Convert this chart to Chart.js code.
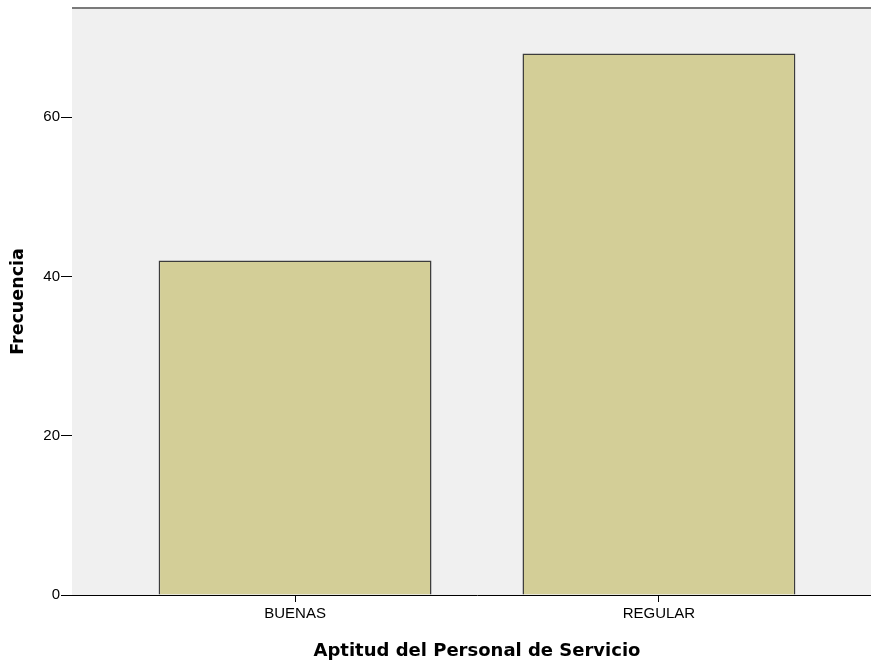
<!DOCTYPE html>
<html>
<head>
<meta charset="utf-8">
<script src="https://cdn.jsdelivr.net/npm/chart.js@4.4.0/dist/chart.umd.min.js"></script>
<style>
  html, body { margin: 0; padding: 0; background: #fff; overflow: hidden; }
  #cntr { width: 882px; height: 662px; }
</style>
</head>
<body>
<div id="cntr"><canvas id="grafica"></canvas></div>
<script>
// datos
const categorias = ['BUENAS', 'REGULAR'];
const frecuencias = [42, 68];
const ticksY = [0, 20, 40, 60];

const fuenteTicks = "'Liberation Sans', Arial, sans-serif";
const fuenteTitulo = "'DejaVu Sans', sans-serif";

// fondo gris del area de trazado + borde superior
const fondo = {
  id: 'fondo',
  beforeDatasetsDraw(chart) {
    const a = chart.chartArea;
    const ctx = chart.ctx;
    ctx.save();
    ctx.fillStyle = '#f0f0f0';
    ctx.fillRect(a.left, a.top, a.right - a.left, a.bottom - a.top);
    ctx.strokeStyle = '#7a7a7a';
    ctx.lineWidth = 2;
    ctx.beginPath();
    ctx.moveTo(a.left, a.top);
    ctx.lineTo(a.right, a.top);
    ctx.stroke();
    ctx.restore();
  }
};

const ctx = document.getElementById('grafica');
new Chart(ctx, {
  type: 'bar',
  data: {
    datasets: [{
      label: 'Frecuencia',
      data: frecuencias.map((v, i) => ({ x: i, y: v })),
      backgroundColor: '#d3ce97',
      borderColor: '#3c3c3c',
      borderWidth: 1.5,
      categoryPercentage: 1,
      barPercentage: 0.75
    }]
  },
  options: {
    responsive: true,
    maintainAspectRatio: false,
    animation: false,
    layout: { padding: { top: 8, left: 0, right: 0, bottom: 0 } },
    plugins: {
      legend: { display: false },
      tooltip: { enabled: false }
    },
    scales: {
      x: {
        type: 'linear',
        offset: false,
        min: -0.613,
        max: 1.613,
        afterBuildTicks: (scale) => {
          scale.ticks = categorias.map((c, i) => ({ value: i }));
        },
        afterFit: (scale) => {
          scale.height = 67;
          scale.paddingLeft = 0;
          scale.paddingRight = 0;
        },
        ticks: {
          callback: (v) => categorias[v],
          color: '#000',
          font: { family: fuenteTicks, size: 15 },
          padding: 3,
          maxRotation: 0
        },
        grid: { display: true, offset: false, drawOnChartArea: false, drawTicks: true, tickLength: 7, color: '#000' },
        border: { display: true, color: '#000', width: 1 },
        title: {
          display: true,
          text: 'Aptitud del Personal de Servicio',
          color: '#000',
          font: { family: fuenteTitulo, size: 18, weight: 'bold' },
          padding: { top: 10, bottom: 0 }
        }
      },
      y: {
        min: 0,
        max: 73.7,
        afterBuildTicks: (scale) => {
          scale.ticks = ticksY.map(v => ({ value: v }));
        },
        afterFit: (scale) => {
          scale.width = 72;
          scale.paddingTop = 0;
          scale.paddingBottom = 0;
        },
        ticks: {
          color: '#000',
          font: { family: fuenteTicks, size: 15 },
          padding: 1
        },
        grid: { display: true, drawOnChartArea: false, drawTicks: true, tickLength: 11, color: '#000' },
        border: { display: true, color: '#000', width: 1 },
        title: {
          display: true,
          text: 'Frecuencia',
          color: '#000',
          font: { family: fuenteTitulo, size: 17.5, weight: 'bold' },
          padding: { top: 8, bottom: 0 }
        }
      }
    }
  },
  plugins: [fondo]
});
</script>
</body>
</html>
